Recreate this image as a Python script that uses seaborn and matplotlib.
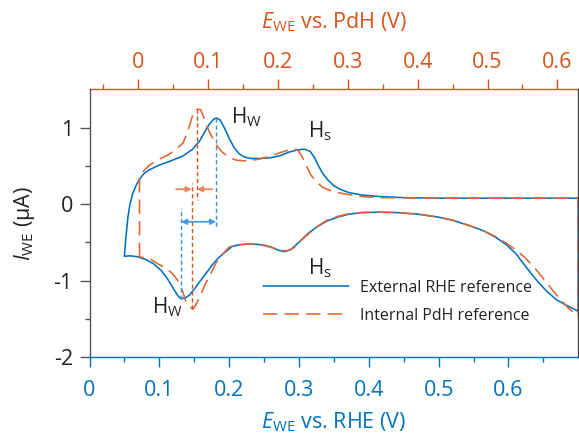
import matplotlib
matplotlib.use("Agg")
import matplotlib.pyplot as plt
import seaborn as sns
import pandas as pd

# Cyclic voltammograms: potential vs. RHE (V) and current (uA)
# External RHE reference, anodic sweep
ext_anodic_e = [0.050, 0.052, 0.055, 0.058, 0.062, 0.067, 0.072, 0.078, 0.086, 0.100,
                0.115, 0.134, 0.148, 0.158, 0.166, 0.172, 0.178, 0.182, 0.187, 0.193,
                0.200, 0.207, 0.214, 0.222, 0.232, 0.245, 0.258, 0.272, 0.286, 0.298,
                0.308, 0.316, 0.322, 0.328, 0.334, 0.342, 0.350, 0.360, 0.372, 0.390,
                0.415, 0.450, 0.500, 0.600, 0.700]
ext_anodic_i = [-0.68, -0.45, -0.17, 0.00, 0.14, 0.25, 0.33, 0.40, 0.45, 0.51,
                0.56, 0.63, 0.72, 0.83, 0.96, 1.05, 1.11, 1.125, 1.10, 1.00,
                0.86, 0.74, 0.66, 0.615, 0.595, 0.597, 0.605, 0.63, 0.68, 0.71,
                0.717, 0.69, 0.61, 0.50, 0.40, 0.31, 0.24, 0.19, 0.15, 0.12,
                0.10, 0.085, 0.078, 0.078, 0.078]
# External RHE reference, cathodic sweep
ext_cathodic_e = [0.700, 0.685, 0.669, 0.655, 0.640, 0.625, 0.611, 0.597, 0.583, 0.565,
                  0.544, 0.520, 0.500, 0.470, 0.440, 0.415, 0.390, 0.372, 0.355, 0.340,
                  0.325, 0.312, 0.303, 0.295, 0.287, 0.279, 0.270, 0.260, 0.250, 0.240,
                  0.229, 0.215, 0.205, 0.195, 0.185, 0.177, 0.168, 0.158, 0.150, 0.143,
                  0.137, 0.131, 0.126, 0.120, 0.112, 0.103, 0.092, 0.080, 0.068, 0.058,
                  0.050]
ext_cathodic_i = [-1.40, -1.33, -1.25, -1.14, -0.99, -0.82, -0.65, -0.53, -0.44, -0.35,
                  -0.28, -0.21, -0.17, -0.13, -0.11, -0.105, -0.11, -0.13, -0.17, -0.22,
                  -0.30, -0.39, -0.47, -0.54, -0.60, -0.62, -0.60, -0.56, -0.535, -0.525,
                  -0.52, -0.53, -0.55, -0.62, -0.70, -0.78, -0.89, -1.01, -1.11, -1.19,
                  -1.225, -1.235, -1.19, -1.10, -0.98, -0.87, -0.78, -0.72, -0.685, -0.675,
                  -0.68]

# Internal PdH reference, anodic sweep
int_anodic_e = [0.0716, 0.0716, 0.078, 0.086, 0.098, 0.110, 0.122, 0.134, 0.140, 0.145,
                0.149, 0.153, 0.159, 0.163, 0.167, 0.173, 0.181, 0.190, 0.200, 0.210,
                0.222, 0.235, 0.248, 0.260, 0.272, 0.283, 0.291, 0.298, 0.304, 0.310,
                0.317, 0.325, 0.334, 0.344, 0.356, 0.368, 0.390, 0.415, 0.500, 0.600,
                0.700]
int_anodic_i = [-0.69, 0.36, 0.44, 0.51, 0.58, 0.63, 0.70, 0.80, 0.93, 1.08,
                1.20, 1.24, 1.235, 1.15, 1.04, 0.92, 0.78, 0.68, 0.61, 0.575,
                0.565, 0.575, 0.60, 0.63, 0.67, 0.70, 0.725, 0.71, 0.63, 0.51,
                0.38, 0.29, 0.22, 0.18, 0.15, 0.13, 0.10, 0.085, 0.078, 0.078,
                0.078]
# Internal PdH reference, cathodic sweep
int_cathodic_e = [0.700, 0.685, 0.669, 0.655, 0.640, 0.625, 0.611, 0.597, 0.583, 0.565,
                  0.544, 0.520, 0.500, 0.470, 0.440, 0.415, 0.390, 0.372, 0.355, 0.340,
                  0.325, 0.312, 0.301, 0.293, 0.286, 0.279, 0.270, 0.258, 0.245, 0.229,
                  0.212, 0.200, 0.190, 0.181, 0.173, 0.165, 0.158, 0.152, 0.148, 0.143,
                  0.138, 0.133, 0.126, 0.118, 0.110, 0.098, 0.086, 0.078, 0.0716]
int_cathodic_i = [-1.47, -1.35, -1.19, -1.03, -0.86, -0.71, -0.60, -0.51, -0.43, -0.35,
                  -0.28, -0.21, -0.17, -0.13, -0.11, -0.105, -0.11, -0.125, -0.16, -0.21,
                  -0.30, -0.40, -0.49, -0.57, -0.60, -0.61, -0.59, -0.56, -0.53, -0.52,
                  -0.53, -0.56, -0.66, -0.77, -0.92, -1.06, -1.21, -1.32, -1.37, -1.33,
                  -1.27, -1.13, -0.99, -0.90, -0.84, -0.78, -0.71, -0.70, -0.69]

# Peak positions (V vs. RHE) used for the shift markers
ext_peak_ox, ext_peak_red = 0.1815, 0.131
int_peak_ox, int_peak_red = 0.1538, 0.1466
pdh_offset = 0.07  # E(PdH) = E(RHE) - offset

x_ticks = [0, 0.1, 0.2, 0.3, 0.4, 0.5, 0.6]
y_ticks = [-2, -1, 0, 1]
series_labels = ["External RHE reference", "Internal PdH reference"]

BLUE = "#0072BD"
ORANGE = "#D95319"
TXT = "#222222"
FS = 15.5

sns.set_theme(style="white")
plt.rcParams["font.family"] = ["Open Sans", "DejaVu Sans"]
plt.rcParams["mathtext.fontset"] = "custom"
plt.rcParams["mathtext.rm"] = "Open Sans"
plt.rcParams["mathtext.it"] = "Open Sans:italic"

ext = pd.DataFrame({"E": ext_anodic_e + ext_cathodic_e, "I": ext_anodic_i + ext_cathodic_i})
internal = pd.DataFrame({"E": int_anodic_e + int_cathodic_e, "I": int_anodic_i + int_cathodic_i})

fig = plt.figure(figsize=(5.79, 4.34), dpi=100)
ax = fig.add_axes([89.5 / 579, 1 - 357.3 / 434, (578.3 - 89.5) / 579, (357.3 - 89.3) / 434])

sns.lineplot(data=ext, x="E", y="I", sort=False, estimator=None, ax=ax,
             color=BLUE, lw=1.15, label=series_labels[0])
sns.lineplot(data=internal, x="E", y="I", sort=False, estimator=None, ax=ax,
             color=ORANGE, lw=1.15, dashes=False, label=series_labels[1])
ax.lines[1].set_linestyle((0, (9, 4.5)))
ax.lines[1].set_color("#DF6430")

# Vertical markers at the hydrogen peaks
ax.plot([ext_peak_ox, ext_peak_ox], [1.125, -0.31], color="#3D92D6", lw=1.0, ls=(0, (3, 2)))
ax.plot([ext_peak_red, ext_peak_red], [-1.235, -0.05], color="#3D92D6", lw=1.0, ls=(0, (3, 2)))
ax.plot([int_peak_ox, int_peak_ox], [1.24, 0.05], color=ORANGE, lw=1.0, ls=(0, (3, 2)))
ax.plot([int_peak_red, int_peak_red], [-1.37, 0.27], color=ORANGE, lw=1.0, ls=(0, (3, 2)))

# Peak separation arrows
ax.annotate("", xy=(ext_peak_ox, -0.23), xytext=(ext_peak_red, -0.23),
            arrowprops=dict(arrowstyle="<|-|>", color="#4A9ADA", lw=1.3,
                            mutation_scale=8, shrinkA=0, shrinkB=0))
ax.annotate("", xy=(int_peak_red, 0.195), xytext=(0.124, 0.195),
            arrowprops=dict(arrowstyle="-|>", color="#E8875E", lw=1.3,
                            mutation_scale=8, shrinkA=0, shrinkB=0))
ax.annotate("", xy=(int_peak_ox, 0.195), xytext=(0.176, 0.195),
            arrowprops=dict(arrowstyle="-|>", color="#E8875E", lw=1.3,
                            mutation_scale=8, shrinkA=0, shrinkB=0))

# Peak labels
lab_kw = dict(fontsize=15, color=TXT, va="baseline", ha="left")
ax.text(0.203, 1.06, r"H$_\mathrm{W}$", **lab_kw)
ax.text(0.3128, 0.877, r"H$_\mathrm{s}$", **lab_kw)
ax.text(0.0898, -1.425, r"H$_\mathrm{W}$", **lab_kw)
ax.text(0.3128, -0.917, r"H$_\mathrm{s}$", **lab_kw)

ax.set_xlim(0, 0.7)
ax.set_ylim(-2, 1.5)
ax.set_xticks(x_ticks)
ax.set_xticks([v + 0.05 for v in x_ticks], minor=True)
ax.set_xticklabels([f"{v:g}" for v in x_ticks])
ax.set_yticks(y_ticks)
ax.set_yticks([-1.5, -0.5, 0.5], minor=True)
ax.set_yticklabels([f"{v:g}" for v in y_ticks])

ax.tick_params(axis="x", which="both", direction="out", bottom=True, colors=BLUE,
               labelsize=FS, pad=9)
ax.tick_params(axis="x", which="major", length=7, width=1)
ax.tick_params(axis="x", which="minor", length=3.6, width=1)
ax.tick_params(axis="y", which="both", direction="out", left=True, color="#555555",
               labelcolor=TXT, labelsize=FS, pad=5)
ax.tick_params(axis="y", which="major", length=7, width=1)
ax.tick_params(axis="y", which="minor", length=3.6, width=1)

ax.set_xlabel(r"$E_{\mathrm{WE}}$ vs. RHE (V)", color=BLUE, fontsize=FS, labelpad=7)
ax.set_ylabel(r"$I_{\mathrm{WE}}$ (µA)", color=TXT, fontsize=FS, labelpad=12)

for side, col in [("left", "#555555"), ("right", "#444444"), ("bottom", BLUE)]:
    ax.spines[side].set_visible(True)
    ax.spines[side].set_color(col)
    ax.spines[side].set_linewidth(1.0)
ax.spines["top"].set_visible(False)

# Top axis: potential vs. the PdH reference
top = ax.secondary_xaxis("top", functions=(lambda x: x - pdh_offset, lambda x: x + pdh_offset))
top.set_xticks(x_ticks)
top.set_xticks([v - 0.05 for v in x_ticks], minor=True)
top.set_xticklabels([f"{v:g}" for v in x_ticks])
top.tick_params(axis="x", which="both", direction="out", colors=ORANGE, labelsize=FS, pad=5)
top.tick_params(axis="x", which="major", length=7, width=1)
top.tick_params(axis="x", which="minor", length=3.6, width=1)
top.spines["top"].set_color(ORANGE)
top.spines["top"].set_linewidth(1.0)
top.set_xlabel(r"$E_{\mathrm{WE}}$ vs. PdH (V)", color=ORANGE, fontsize=FS, labelpad=17)

leg = ax.legend(loc="upper left", bbox_to_anchor=(0.355, 0.29), frameon=False,
                fontsize=11.5, handlelength=5.4, handletextpad=0.7, labelspacing=0.75,
                borderpad=0, borderaxespad=0)
for t in leg.get_texts():
    t.set_color(TXT)

fig.savefig("out.png", dpi=100)
